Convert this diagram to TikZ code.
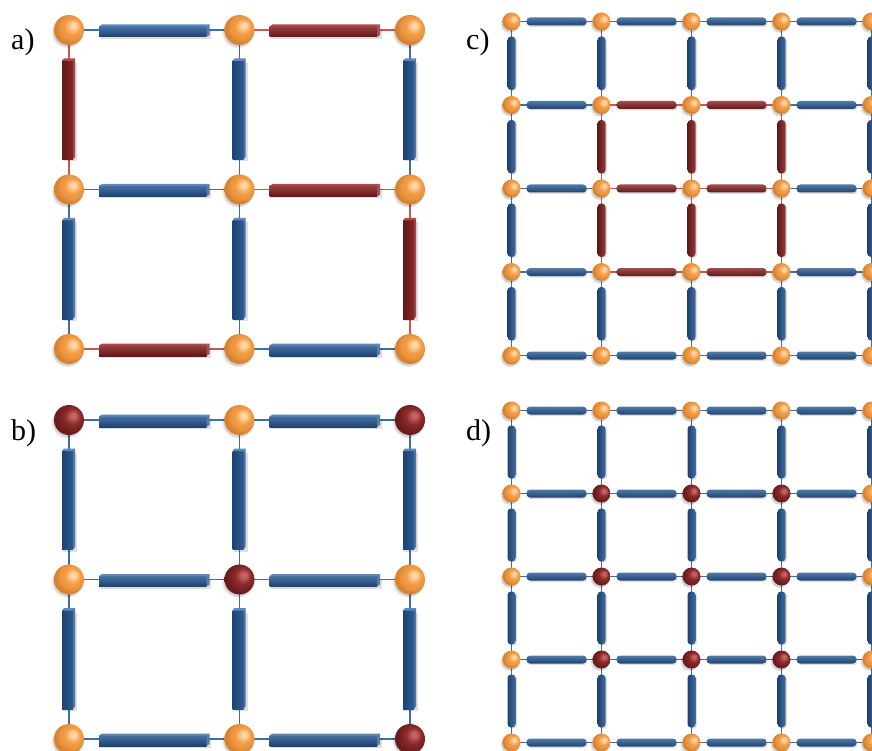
\documentclass[tikz,border=0pt]{standalone}
\usepackage{fontspec}
\setmainfont{Liberation Serif}
\usetikzlibrary{calc,shadows}

\definecolor{orhi}{HTML}{FDD6A6}
\definecolor{ormid}{HTML}{F59C44}
\definecolor{oredge}{HTML}{D9822F}
\definecolor{rdhi}{HTML}{C26464}
\definecolor{rdmid}{HTML}{8E2B2B}
\definecolor{rdedge}{HTML}{6A1C1C}
\definecolor{blA}{HTML}{5F88B8}
\definecolor{blB}{HTML}{2D5D94}
\definecolor{blC}{HTML}{1E4272}
\definecolor{blL}{HTML}{3E6EA3}
\definecolor{rbA}{HTML}{B04A4A}
\definecolor{rbB}{HTML}{8A2727}
\definecolor{rbC}{HTML}{601818}
\definecolor{rbL}{HTML}{C45858}

\pgfdeclareradialshading{orsph}{\pgfpoint{8bp}{8bp}}{color(0bp)=(orhi); color(4bp)=(orhi); color(13bp)=(ormid); color(21bp)=(ormid!94!black); color(25bp)=(oredge); color(50bp)=(oredge)}
\pgfdeclareradialshading{rdsph}{\pgfpoint{8bp}{8bp}}{color(0bp)=(rdhi); color(4bp)=(rdhi); color(13bp)=(rdmid); color(25bp)=(rdedge); color(50bp)=(rdedge)}

\tikzset{
  osph/.style={circle, inner sep=0pt, shade, shading=orsph,
    circular drop shadow={shadow xshift=-1.5pt, shadow yshift=-1.5pt, fill=black, opacity=.18}},
  rsph/.style={circle, inner sep=0pt, shade, shading=rdsph,
    circular drop shadow={shadow xshift=-1.5pt, shadow yshift=-1.5pt, fill=black, opacity=.18}},
  big/.style={minimum size=30pt},
  small/.style={minimum size=18pt},
  lab/.style={font=\fontsize{30}{32}\selectfont, anchor=base west, inner sep=0pt},
  barshadow/.style={fill=black, opacity=.13}
}

% 3D prism bars (panels a, b): #1 left/top node, #2 right/bottom node, #3 colour set
\newcommand\hprism[3]{%
  \draw[#3L, line width=1.4pt] (#1) -- (#2);
  \coordinate (hp1) at ($(#1)+(30,0)$);
  \coordinate (hp2) at ($(#2)+(-33,0)$);
  \fill[barshadow] ($(hp1)+(1,-9)$) rectangle ($(hp2)+(4.5,1)$);
  \shade[top color=#3B!88!white, middle color=#3B, bottom color=#3C] ($(hp1)+(0,-7)$) rectangle ($(hp2)+(0,3.5)$);
  \fill[#3A] ($(hp1)+(0,3.5)$) -- ($(hp2)+(0,3.5)$) -- ($(hp2)+(3,5.5)$) -- ($(hp1)+(3,5.5)$) -- cycle;
  \fill[#3B!80!white] ($(hp2)+(0,3.5)$) -- ($(hp2)+(3,5.5)$) -- ($(hp2)+(3,-5)$) -- ($(hp2)+(0,-7)$) -- cycle;
}
\newcommand\vprism[3]{%
  \draw[#3L, line width=1.4pt] (#1) -- (#2);
  \coordinate (vp1) at ($(#1)+(0,-31)$);
  \coordinate (vp2) at ($(#2)+(0,30)$);
  \fill[barshadow] ($(vp1)+(-6,-2)$) rectangle ($(vp2)+(8,-2)$);
  \shade[left color=#3C, middle color=#3B, right color=#3B] ($(vp1)+(-7,0)$) rectangle ($(vp2)+(4,0)$);
  \fill[#3A] ($(vp1)+(-7,0)$) -- ($(vp1)+(4,0)$) -- ($(vp1)+(6,2.5)$) -- ($(vp1)+(-5,2.5)$) -- cycle;
  \fill[#3B!85!white] ($(vp1)+(4,0)$) -- ($(vp1)+(6,2.5)$) -- ($(vp2)+(6,2.5)$) -- ($(vp2)+(4,0)$) -- cycle;
}
% capsule bars (panels c, d)
\newcommand\hcap[3]{%
  \draw[#3L, line width=1.1pt] (#1) -- (#2);
  \fill[barshadow, rounded corners=3.5pt] ($(#1)+(16,2.5)$) rectangle ($(#2)+(-14,-5.5)$);
  \shade[rounded corners=3.5pt, top color=#3B!82!white, middle color=#3B, bottom color=#3C] ($(#1)+(15,4)$) rectangle ($(#2)+(-15,-4)$);
}
\newcommand\vcap[3]{%
  \draw[#3L, line width=1.1pt] (#1) -- (#2);
  \fill[barshadow, rounded corners=3.5pt] ($(#1)+(-2.5,-16)$) rectangle ($(#2)+(5.5,14)$);
  \shade[rounded corners=3.5pt, left color=#3C, middle color=#3B, right color=#3B!90!white] ($(#1)+(-4,-15)$) rectangle ($(#2)+(4,15)$);
}

\begin{document}
\begin{tikzpicture}[x=1pt, y=1pt]
\useasboundingbox (0,0) rectangle (872,-751);
\clip (0,0) rectangle (872,-751);
\fill[white] (0,0) rectangle (872,-751);

% ---------- labels
\node[lab] (la) at (11,-50) {a)};
\node[lab] (lb) at (11,-440) {b)};
\node[lab] (lc) at (466,-50) {c)};
\node[lab] (ld) at (466,-440) {d)};

% ---------- panel a
\foreach \i/\x in {1/69,2/239.5,3/410}
  \foreach \j/\y in {1/30,2/189.5,3/349}
    \coordinate (A-\i-\j) at (\x,-\y);
\hprism{A-1-1}{A-2-1}{bl} \hprism{A-2-1}{A-3-1}{rb}
\hprism{A-1-2}{A-2-2}{bl} \hprism{A-2-2}{A-3-2}{rb}
\hprism{A-1-3}{A-2-3}{rb} \hprism{A-2-3}{A-3-3}{bl}
\vprism{A-1-1}{A-1-2}{rb} \vprism{A-2-1}{A-2-2}{bl} \vprism{A-3-1}{A-3-2}{bl}
\vprism{A-1-2}{A-1-3}{bl} \vprism{A-2-2}{A-2-3}{bl} \vprism{A-3-2}{A-3-3}{rb}
\foreach \i in {1,2,3}
  \foreach \j in {1,2,3}
    \node[osph,big] (sA-\i-\j) at (A-\i-\j) {};

% ---------- panel b
\foreach \i/\x in {1/69,2/239.5,3/410}
  \foreach \j/\y in {1/420,2/579.5,3/739}
    \coordinate (B-\i-\j) at (\x,-\y);
\hprism{B-1-1}{B-2-1}{bl} \hprism{B-2-1}{B-3-1}{bl}
\hprism{B-1-2}{B-2-2}{bl} \hprism{B-2-2}{B-3-2}{bl}
\hprism{B-1-3}{B-2-3}{bl} \hprism{B-2-3}{B-3-3}{bl}
\vprism{B-1-1}{B-1-2}{bl} \vprism{B-2-1}{B-2-2}{bl} \vprism{B-3-1}{B-3-2}{bl}
\vprism{B-1-2}{B-1-3}{bl} \vprism{B-2-2}{B-2-3}{bl} \vprism{B-3-2}{B-3-3}{bl}
\node[rsph,big] (sB-1-1) at (B-1-1) {};
\node[osph,big] (sB-2-1) at (B-2-1) {};
\node[rsph,big] (sB-3-1) at (B-3-1) {};
\node[osph,big] (sB-1-2) at (B-1-2) {};
\node[rsph,big] (sB-2-2) at (B-2-2) {};
\node[osph,big] (sB-3-2) at (B-3-2) {};
\node[osph,big] (sB-1-3) at (B-1-3) {};
\node[osph,big] (sB-2-3) at (B-2-3) {};
\node[rsph,big] (sB-3-3) at (B-3-3) {};

% ---------- panel c
\foreach \i/\x in {1/511.5,2/601.5,3/691.5,4/781.5,5/871.5}
  \foreach \j/\y in {1/21.5,2/105,3/188.5,4/272,5/355.5}
    \coordinate (C-\i-\j) at (\x,-\y);
\foreach \j in {1,...,5}{\foreach \i in {1,...,4}{%
  \pgfmathtruncatemacro\ni{\i+1}%
  \def\cl{bl}%
  \ifnum\j>1 \ifnum\j<5 \ifnum\i>1 \ifnum\i<4 \def\cl{rb}\fi\fi\fi\fi
  \edef\tmp{\noexpand\hcap{C-\i-\j}{C-\ni-\j}{\cl}}\tmp
}}
\foreach \i in {1,...,5}{\foreach \j in {1,...,4}{%
  \pgfmathtruncatemacro\nj{\j+1}%
  \def\cl{bl}%
  \ifnum\i>1 \ifnum\i<5 \ifnum\j>1 \ifnum\j<4 \def\cl{rb}\fi\fi\fi\fi
  \edef\tmp{\noexpand\vcap{C-\i-\j}{C-\i-\nj}{\cl}}\tmp
}}
\foreach \i in {1,...,5}
  \foreach \j in {1,...,5}
    \node[osph,small] (sC-\i-\j) at (C-\i-\j) {};

% ---------- panel d
\foreach \i/\x in {1/511.5,2/601.5,3/691.5,4/781.5,5/871.5}
  \foreach \j/\y in {1/410.5,2/493.5,3/576.5,4/659.5,5/742.5}
    \coordinate (D-\i-\j) at (\x,-\y);
\foreach \j in {1,...,5}{\foreach \i in {1,...,4}{%
  \pgfmathtruncatemacro\ni{\i+1}%
  \edef\tmp{\noexpand\hcap{D-\i-\j}{D-\ni-\j}{bl}}\tmp
}}
\foreach \i in {1,...,5}{\foreach \j in {1,...,4}{%
  \pgfmathtruncatemacro\nj{\j+1}%
  \edef\tmp{\noexpand\vcap{D-\i-\j}{D-\i-\nj}{bl}}\tmp
}}
\foreach \i in {1,...,5}{\foreach \j in {1,...,5}{%
  \def\st{osph}%
  \ifnum\i>1 \ifnum\i<5 \ifnum\j>1 \ifnum\j<5 \def\st{rsph}\fi\fi\fi\fi
  \edef\tmp{\noexpand\node[\st,small] (sD-\i-\j) at (D-\i-\j) {};}\tmp
}}
\end{tikzpicture}
\end{document}
